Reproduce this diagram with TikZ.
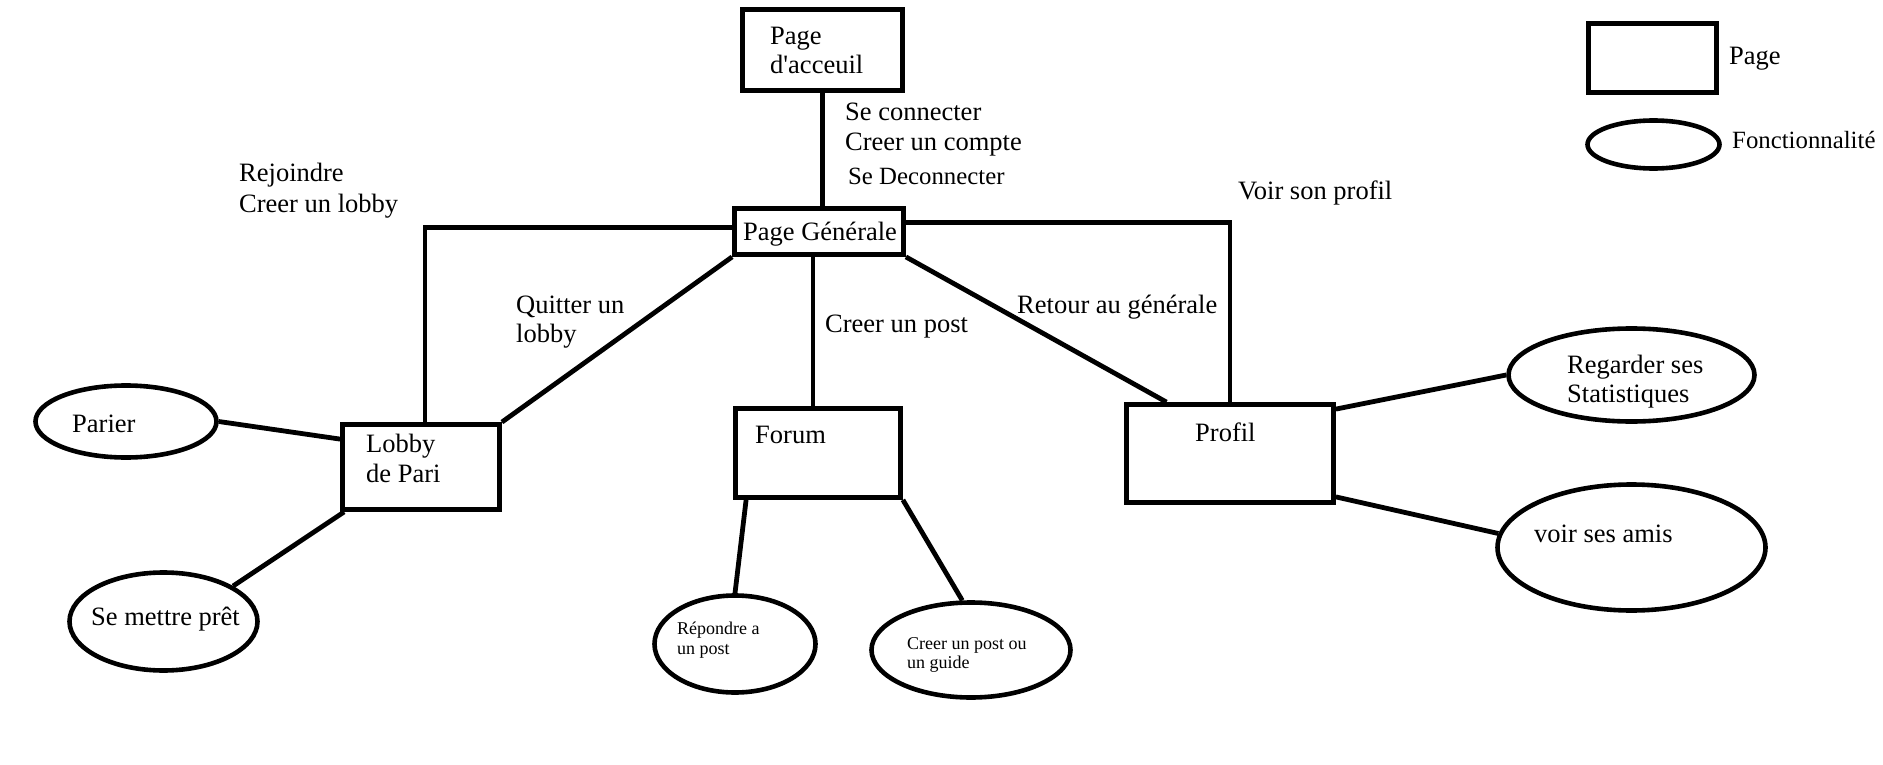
\documentclass[tikz,border=0pt]{standalone}
\usepackage{fontspec}
\setmainfont{Liberation Serif}
\usetikzlibrary{shapes.geometric,calc}
\tikzset{
  pagebox/.style={draw=black, line width=4.8pt, rectangle, inner sep=0pt, fill=white},
  fonc/.style={draw=black, line width=4.6pt, ellipse, inner sep=0pt, fill=white},
  conn/.style={draw=black, line width=4.8pt, line cap=butt},
  txt/.style={inner sep=0pt, anchor=base west, font=\fontsize{26.5}{30}\selectfont},
  txtm/.style={inner sep=0pt, anchor=base west, font=\fontsize{24.8}{28}\selectfont},
  txts/.style={inner sep=0pt, anchor=base west, font=\fontsize{18}{21}\selectfont}
}
\begin{document}
\begin{tikzpicture}[x=1pt,y=-1pt]
\fill[white] (0,0) rectangle (1883,765);
\useasboundingbox (0,0) rectangle (1883,765);

% boxes (pages)
\node[pagebox, minimum width=160pt, minimum height=81pt] (acc) at (822.5,50) {};
\node[pagebox, minimum width=169pt, minimum height=46pt] (gen) at (819,231.5) {};
\node[pagebox, minimum width=157pt, minimum height=85pt] (lobby) at (421,467) {};
\node[pagebox, minimum width=165pt, minimum height=89pt] (forum) at (818,453) {};
\node[pagebox, minimum width=207pt, minimum height=98pt] (prof) at (1230,453.5) {};
\node[pagebox, minimum width=128pt, minimum height=69pt] (legpage) at (1652.5,58) {};

% ellipses (fonctionnalites)
\node[fonc, minimum width=181pt, minimum height=72pt] (parier) at (126,421.5) {};
\node[fonc, minimum width=188pt, minimum height=98pt] (pret) at (163.5,621.5) {};
\node[fonc, minimum width=161pt, minimum height=97pt] (rep) at (735,644) {};
\node[fonc, minimum width=199pt, minimum height=95pt] (cpost) at (971,650) {};
\node[fonc, minimum width=246pt, minimum height=93pt] (reg) at (1631.5,375) {};
\node[fonc, minimum width=268pt, minimum height=126pt] (amis) at (1631.5,547.5) {};
\node[fonc, minimum width=132pt, minimum height=48pt] (legfonc) at (1653.5,144.5) {};

% connectors
\draw[conn] (acc.south) -- (acc.south |- gen.north);
\draw[conn] ([yshift=4pt]gen.west) -| ([xshift=4pt]lobby.north);
\draw[conn] (gen.south west) -- (lobby.north east);
\draw[conn] ([xshift=-5pt]forum.north |- gen.south) -- ([xshift=-5pt]forum.north);
\draw[conn] (gen.south east) -- ($(prof.north west)!0.2!(prof.north east)$);
\draw[conn] ([yshift=9pt]gen.east) -| (prof.north);
\draw[conn] ([yshift=-7pt]prof.north east) -- (reg.west);
\draw[conn] ([yshift=8pt]prof.south east) -- (amis.174);
\draw[conn] (parier.east) -- ([yshift=-17pt]lobby.north west);
\draw[conn] ([xshift=4pt]lobby.south west) -- (pret.27);
\draw[conn] ([xshift=13pt]forum.south west) -- (rep.north);
\draw[conn] (forum.south east) -- (cpost.100);

% texts
\node[txt] (tacc1) at (770,45) {Page};
\node[txt] (tacc2) at (770,74) {d\textquotesingle acceuil};
\node[txt] (tsc) at (845,121) {Se connecter};
\node[txt] (tcc) at (845,150) {Creer un compte};
\node[txtm] (tsd) at (848,185) {Se Deconnecter};
\node[txt] (tgen) at (743,240) {Page Générale};
\node[txt] (trej) at (239,182) {Rejoindre};
\node[txt] (tcl) at (239,212) {Creer un lobby};
\node[txt] (tq1) at (516,313) {Quitter un};
\node[txt] (tq2) at (516,342) {lobby};
\node[txt] (tpar) at (72,432) {Parier};
\node[txt] (tlob1) at (366,452) {Lobby};
\node[txt] (tlob2) at (366,482) {de Pari};
\node[txt] (tpret) at (91,625) {Se mettre prêt};
\node[txt] (tcp) at (825,332) {Creer un post};
\node[txt] (tfor) at (755,443) {Forum};
\node[txts] (trep1) at (677,634) {Répondre a};
\node[txts] (trep2) at (677,654) {un post};
\node[txts] (tcpo1) at (907,649) {Creer un post ou};
\node[txts] (tcpo2) at (907,668) {un guide};
\node[txt] (tret) at (1017,313) {Retour au générale};
\node[txt] (tvsp) at (1238,200) {Voir son profil};
\node[txt] (tprof) at (1195,441) {Profil};
\node[txt] (treg1) at (1567,373) {Regarder ses};
\node[txt] (treg2) at (1567,402) {Statistiques};
\node[txt] (tamis) at (1534,542) {voir ses amis};
\node[txt] (tlegp) at (1729,65) {Page};
\node[txtm] (tlegf) at (1732,149) {Fonctionnalité};
\end{tikzpicture}
\end{document}
